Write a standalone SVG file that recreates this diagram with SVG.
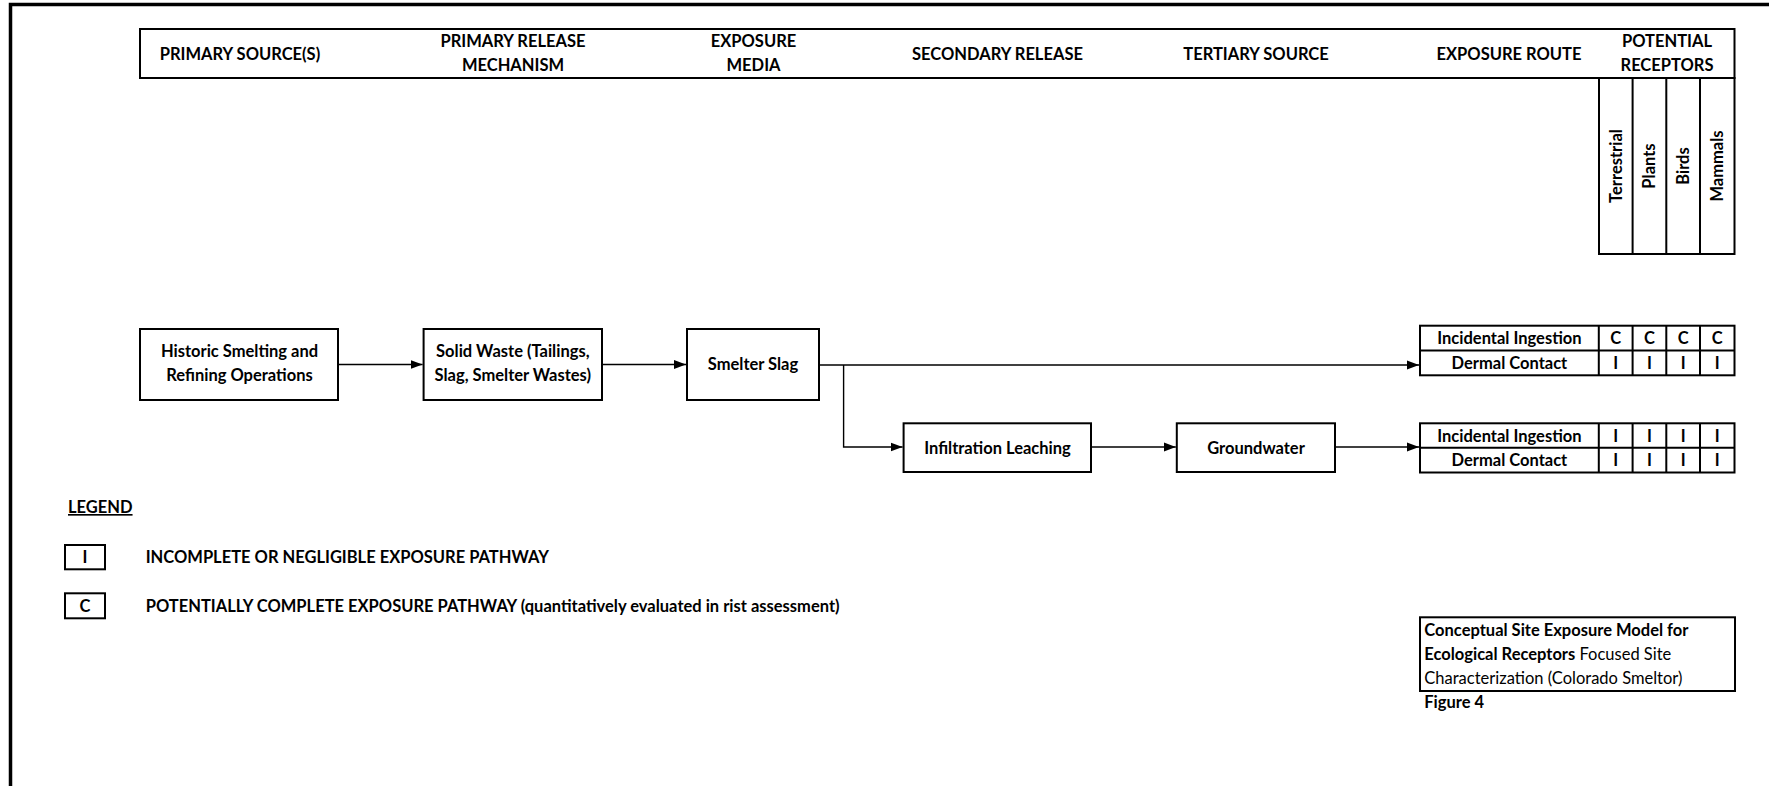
<svg xmlns="http://www.w3.org/2000/svg" width="1769" height="786" viewBox="0 0 1769 786">
<defs>
<marker id="arr" viewBox="0 0 12 10" refX="12" refY="5" markerWidth="12" markerHeight="10" markerUnits="userSpaceOnUse" orient="auto">
<path d="M0,0.5 L12,5 L0,9.5 Z" fill="#000"/>
</marker>
<style>
.b{fill:#fff;stroke:#000;stroke-width:2}
.ln{fill:none;stroke:#000;stroke-width:2}
.c{fill:none;stroke:#000;stroke-width:1.4}
text{font-family:Lato,"Liberation Sans",sans-serif;font-size:16.5px;font-weight:bold;fill:#000}
.m{text-anchor:middle}
.r{font-weight:normal}
</style>
</defs>
<rect width="1769" height="786" fill="#fff"/>
<path d="M10.5,786 V4.5 H1769" fill="none" stroke="#000" stroke-width="3.5"/>

<g id="header">
<rect class="b" x="140" y="29" width="1594.5" height="49"/>
<text class="m" x="240" y="60">PRIMARY SOURCE(S)</text>
<text class="m" x="513" y="47">PRIMARY RELEASE</text>
<text class="m" x="513" y="71">MECHANISM</text>
<text class="m" x="753.5" y="47">EXPOSURE</text>
<text class="m" x="753.5" y="71">MEDIA</text>
<text class="m" x="997.5" y="60">SECONDARY RELEASE</text>
<text class="m" x="1256" y="60">TERTIARY SOURCE</text>
<text class="m" x="1509" y="60">EXPOSURE ROUTE</text>
<text class="m" x="1667" y="47">POTENTIAL</text>
<text class="m" x="1667" y="71">RECEPTORS</text>
</g>

<g id="receptors">
<rect class="b" x="1599" y="78" width="135.5" height="176"/>
<path class="ln" d="M1632.6,78 V254 M1666.3,78 V254 M1700,78 V254"/>
<text class="m" transform="translate(1621.5,166) rotate(-90)">Terrestrial</text>
<text class="m" transform="translate(1655.2,166) rotate(-90)">Plants</text>
<text class="m" transform="translate(1688.9,166) rotate(-90)">Birds</text>
<text class="m" transform="translate(1722.6,166) rotate(-90)">Mammals</text>
</g>

<g id="connectors">
<path class="c" d="M338,364.5 H422.6" marker-end="url(#arr)"/>
<path class="c" d="M602,364.5 H686" marker-end="url(#arr)"/>
<path class="c" d="M819,365 H1419" marker-end="url(#arr)"/>
<path class="c" d="M843.6,365 V447 H902.6" marker-end="url(#arr)"/>
<path class="c" d="M1091,447 H1175.8" marker-end="url(#arr)"/>
<path class="c" d="M1335,447 H1419" marker-end="url(#arr)"/>
</g>

<g id="historic">
<rect class="b" x="140" y="329" width="198" height="71"/>
<text class="m" x="239.5" y="357">Historic Smelting and</text>
<text class="m" x="239.5" y="381">Refining Operations</text>
</g>
<g id="solidwaste">
<rect class="b" x="423.6" y="329" width="178.4" height="71"/>
<text class="m" x="512.8" y="357">Solid Waste (Tailings,</text>
<text class="m" x="512.8" y="381">Slag, Smelter Wastes)</text>
</g>
<g id="slag">
<rect class="b" x="687" y="329" width="132" height="71"/>
<text class="m" x="753" y="370">Smelter Slag</text>
</g>
<g id="infiltration">
<rect class="b" x="903.6" y="423.3" width="187.4" height="48.7"/>
<text class="m" x="997.5" y="453.5">Infiltration Leaching</text>
</g>
<g id="groundwater">
<rect class="b" x="1176.8" y="423.3" width="158.2" height="48.7"/>
<text class="m" x="1256" y="453.5">Groundwater</text>
</g>

<g id="table1">
<rect class="b" x="1420" y="325.7" width="314.5" height="49.6"/>
<path class="ln" d="M1420,350.6 H1734.5 M1598.8,325.7 V375.3 M1632.6,325.7 V375.3 M1666.3,325.7 V375.3 M1700,325.7 V375.3"/>
<text class="m" x="1509.4" y="344.3">Incidental Ingestion</text>
<text class="m" x="1509.4" y="369">Dermal Contact</text>
<text class="m" x="1615.7" y="344.3">C</text>
<text class="m" x="1649.4" y="344.3">C</text>
<text class="m" x="1683.1" y="344.3">C</text>
<text class="m" x="1717.2" y="344.3">C</text>
<text class="m" x="1615.7" y="369">I</text>
<text class="m" x="1649.4" y="369">I</text>
<text class="m" x="1683.1" y="369">I</text>
<text class="m" x="1717.2" y="369">I</text>
</g>
<g id="table2">
<rect class="b" x="1420" y="423.3" width="314.5" height="49.2"/>
<path class="ln" d="M1420,447.7 H1734.5 M1598.8,423.3 V472.5 M1632.6,423.3 V472.5 M1666.3,423.3 V472.5 M1700,423.3 V472.5"/>
<text class="m" x="1509.4" y="441.8">Incidental Ingestion</text>
<text class="m" x="1509.4" y="466.3">Dermal Contact</text>
<text class="m" x="1615.7" y="441.8">I</text>
<text class="m" x="1649.4" y="441.8">I</text>
<text class="m" x="1683.1" y="441.8">I</text>
<text class="m" x="1717.2" y="441.8">I</text>
<text class="m" x="1615.7" y="466.3">I</text>
<text class="m" x="1649.4" y="466.3">I</text>
<text class="m" x="1683.1" y="466.3">I</text>
<text class="m" x="1717.2" y="466.3">I</text>
</g>

<g id="legend">
<text x="68" y="513" text-decoration="underline">LEGEND</text>
<rect class="b" x="65" y="545" width="40" height="24.3"/>
<text class="m" x="85" y="563">I</text>
<text x="145.7" y="563">INCOMPLETE OR NEGLIGIBLE EXPOSURE PATHWAY</text>
<rect class="b" x="65" y="593.3" width="40" height="25"/>
<text class="m" x="85" y="611.7">C</text>
<text x="145.7" y="611.7">POTENTIALLY COMPLETE EXPOSURE PATHWAY (quantitatively evaluated in rist assessment)</text>
</g>

<g id="title">
<rect class="b" x="1420" y="617.3" width="315" height="73.7"/>
<text x="1424.3" y="636">Conceptual Site Exposure Model for</text>
<text x="1424.3" y="660">Ecological Receptors<tspan class="r"> Focused Site</tspan></text>
<text class="r" x="1424.3" y="684">Characterization (Colorado Smeltor)</text>
<text x="1424.3" y="708">Figure 4</text>
</g>
</svg>
